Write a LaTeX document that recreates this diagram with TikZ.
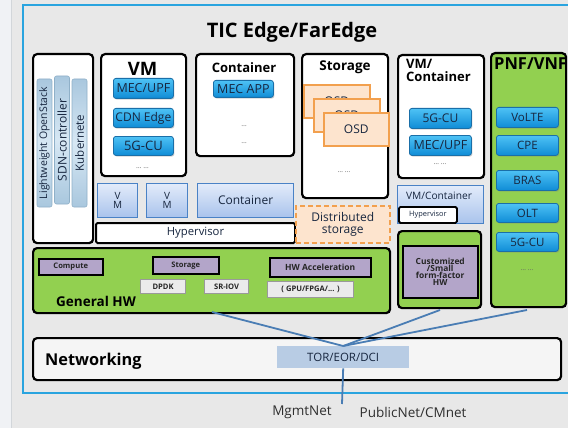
\documentclass[tikz,border=0pt]{standalone}
\usepackage{fontspec}
\setmainfont{Open Sans}
\usetikzlibrary{shadows}

\definecolor{bgcol}{HTML}{E8E8E8}
\definecolor{stripcol}{HTML}{F0F2F5}
\definecolor{stripline}{HTML}{D2D6DA}
\definecolor{frameblue}{HTML}{2AA4DF}
\definecolor{btntop}{HTML}{4EC2F5}
\definecolor{btnbot}{HTML}{0F8CD6}
\definecolor{btnedge}{HTML}{1A6FA8}
\definecolor{navy}{HTML}{17263F}
\definecolor{barside}{HTML}{A9C7DE}
\definecolor{barmid}{HTML}{D7E8F4}
\definecolor{baredge}{HTML}{8FB0C8}
\definecolor{vmtop}{HTML}{E2EBFA}
\definecolor{vmbot}{HTML}{A9C3EC}
\definecolor{vmedge}{HTML}{4A82C6}
\definecolor{osdfill}{HTML}{FDE4CE}
\definecolor{osdedge}{HTML}{F2A04E}
\definecolor{hwgreen}{HTML}{92D050}
\definecolor{hwpurple}{HTML}{B3A5C9}
\definecolor{drvfill}{HTML}{EBEBEB}
\definecolor{drvedge}{HTML}{9A9A9A}
\definecolor{torfill}{HTML}{B8CCE4}
\definecolor{linkblue}{HTML}{4A7DB4}
\definecolor{labelgray}{HTML}{2E2E2E}

\newcommand\fs[1]{\fontsize{#1}{1.2\dimexpr#1pt\relax}\selectfont}

\begin{document}
\begin{tikzpicture}[x=1pt,y=-1pt,
  panel/.style={draw=black, line width=2.2pt, rounded corners=4pt, fill=white,
    anchor=north west, inner sep=0pt},
  greenpanel/.style={panel, fill=hwgreen},
  title/.style={font=\bfseries\fs{#1}, text=black, inner sep=0pt},
  btn/.style={draw=btnedge, line width=0.8pt, rounded corners=2.5pt,
    top color=btntop, bottom color=btnbot, anchor=north west, inner sep=0pt,
    text=navy, font=\fs{12.5},
    drop shadow={opacity=0.35, shadow xshift=1pt, shadow yshift=-1.2pt}},
  bar/.style={draw=baredge, line width=0.6pt, rounded corners=2pt, rotate=90,
    top color=barside, bottom color=barside, middle color=barmid,
    minimum width=128, minimum height=15, inner sep=0pt, text=navy},
  vmbox/.style={draw=vmedge, line width=1.2pt, top color=vmtop, bottom color=vmbot,
    anchor=north west, inner sep=0pt, text=navy, align=center},
  hyper/.style={draw=black, line width=2pt, rounded corners=1.5pt, fill=white,
    anchor=north west, inner sep=0pt, text=navy},
  osd/.style={draw=osdedge, line width=1.6pt, fill=osdfill, anchor=north west,
    inner sep=0pt, minimum width=66, minimum height=33, font=\fs{12}, text=navy},
  hwbox/.style={draw=black, line width=1.5pt, fill=hwpurple, anchor=north west,
    inner sep=0pt, font=\bfseries\fs{7.6}, text=black!85},
  drv/.style={draw=drvedge, line width=1.2pt, fill=drvfill, anchor=north west,
    inner sep=0pt, font=\bfseries\fs{7.6}, text=black!85},
  dots/.style={font=\fs{7}, text=black!60, inner sep=0pt},
  link/.style={draw=linkblue, line width=1.8pt},
  netlabel/.style={font=\fs{13.5}, text=labelgray, inner sep=0pt}]

\clip (0,0) rectangle (568,428);

% page background and side strip
\fill[bgcol] (0,0) rectangle (568,428);
\fill[stripcol] (0,0) rectangle (11,428);
\draw[stripline, line width=0.8pt] (11.5,0) -- (11.5,428);

% outer frame
\draw[draw=frameblue, line width=2.5pt] (23,5) rectangle (578,393);
\node[title=20] (ttl) at (292,32) {TIC Edge/FarEdge};

% controllers column
\node[panel, minimum width=60, minimum height=189] (ctl) at (32,53) {};
\node[bar, font=\fs{10.5}] (ostack) at (44.5,143) {Lightweight OpenStack};
\node[bar, font=\fs{12}] (sdn) at (62,140) {SDN-controller};
\node[bar, font=\fs{11.5}] (kube) at (79.5,143) {Kubernete};

% VM panel
\node[panel, minimum width=85, minimum height=122] (vmp) at (100,53) {};
\node[title=18.5] (vmt) at (142.5,69) {VM};
\node[btn, minimum width=60, minimum height=20] (vmb1) at (113,78) {MEC/UPF};
\node[btn, minimum width=60, minimum height=19, font=\fs{12}] (vmb2) at (113,108) {CDN Edge};
\node[btn, minimum width=60, minimum height=19, font=\fs{13}] (vmb3) at (113,136) {5G-CU};
\node[dots] (vmd) at (142.5,168) {\ldots\ \ldots};

% container panel
\node[panel, minimum width=98, minimum height=102] (ctp) at (195,53) {};
\node[title=13] (ctt) at (244,68) {Container};
\node[btn, minimum width=60, minimum height=17] (ctb1) at (213,80) {MEC APP};
\node[dots] (ctd1) at (244,126) {\ldots};
\node[dots] (ctd2) at (244,143) {\ldots};

% storage panel with stacked OSDs
\node[panel, minimum width=86, minimum height=144] (stp) at (301,53) {};
\node[title=13.5] (stt) at (345,67) {Storage};
\node[osd] (osd1) at (303,84) {OSD};
\node[osd] (osd2) at (313,98) {OSD};
\node[osd, minimum width=65] (osd3) at (323,112) {OSD};
\node[dots] (std) at (344,172) {\ldots\ \ldots};

% VM/Container panel
\node[panel, minimum width=86, minimum height=123] (vcp) at (397,54) {};
\node[title=13, anchor=north west, align=left] (vct) at (406,59) {VM/\\[-3pt]Container};
\node[btn, minimum width=62, minimum height=20, font=\fs{12}] (vcb1) at (409,108) {5G-CU};
\node[btn, minimum width=62, minimum height=20, font=\fs{12.5}] (vcb2) at (409,135) {MEC/UPF};
\node[dots] (vcd) at (440,164) {\ldots\ \ldots};

% PNF/VNF column
\node[greenpanel, minimum width=75, minimum height=254] (pnf) at (490,52) {};
\node[title=16.5, anchor=west] (pnft) at (494,64) {PNF/VNF};
\node[btn, minimum width=62, minimum height=20, font=\fs{11.5}] (pb1) at (496,107) {VoLTE};
\node[btn, minimum width=62, minimum height=20, font=\fs{11.5}] (pb2) at (496,135) {CPE};
\node[btn, minimum width=62, minimum height=20, font=\fs{11.5}] (pb3) at (496,170) {BRAS};
\node[btn, minimum width=62, minimum height=19, font=\fs{11.5}] (pb4) at (496,203) {OLT};
\node[btn, minimum width=62, minimum height=19, font=\fs{11.5}] (pb5) at (496,232) {5G-CU};
\node[dots] (pnd) at (527,270) {\ldots\ \ldots};

% virtualisation layer
\node[vmbox, minimum width=40, minimum height=34, font=\fs{10}] (vm1) at (97,183) {V\\[-3pt]M};
\node[vmbox, minimum width=41, minimum height=34, font=\fs{10}] (vm2) at (146,183) {V\\[-3pt]M};
\node[vmbox, minimum width=96, minimum height=34, font=\fs{12}] (ctn) at (197,183) {Container};
\node[hyper, minimum width=199, minimum height=20, font=\fs{11.3}] (hyp) at (95,222) {Hypervisor};

\node[draw=osdedge, line width=1.6pt, dash pattern=on 5pt off 3pt, fill=osdfill,
  anchor=north west, inner sep=0pt, minimum width=94, minimum height=37,
  align=center, font=\fs{12}, text=navy] (dst) at (295,205) {Distributed\\[-3pt]storage};

\node[vmbox, minimum width=86, minimum height=38] (vcs) at (397,185) {};
\node[font=\fs{10.2}, text=navy, inner sep=0pt] (vcst) at (439,196) {VM/Container};
\node[hyper, line width=1.8pt, minimum width=58, minimum height=16, font=\fs{7.4}] (hyp2) at (398,206) {Hypervisor};

% customised hardware
\node[greenpanel, minimum width=83, minimum height=77] (cust) at (397,230) {};
\node[hwbox, minimum width=75, minimum height=52, align=center,
  font=\bfseries\fs{8.4}] (custin) at (402,245) {Customized\\[-3pt]/Small\\[-3pt]form-factor\\[-3pt]HW};

% general hardware
\node[greenpanel, minimum width=357, minimum height=65] (ghw) at (32,247) {};
\node[hwbox, minimum width=64, minimum height=16] (cmp) at (38,258) {Compute};
\node[hwbox, minimum width=66, minimum height=17] (sto) at (152,256) {Storage};
\node[hwbox, minimum width=101, minimum height=19, font=\bfseries\fs{8.5}] (acc) at (269,257) {HW Acceleration};
\node[drv, minimum width=45, minimum height=14] (dpdk) at (140,279) {DPDK};
\node[drv, minimum width=44, minimum height=14] (sriov) at (204,279) {SR-IOV};
\node[drv, minimum width=86, minimum height=16] (gpu) at (267,281) {( GPU/FPGA/... )};
\node[title=13.5, anchor=west] (ghwt) at (56,301) {General HW};

% networking
\node[panel, fill=white, fill opacity=0.6, text opacity=1, minimum width=528,
  minimum height=42] (net) at (32,337) {};
\node[title=16.3, anchor=west] (nett) at (45,361) {Networking};
\node[fill=torfill, anchor=north west, inner sep=0pt, minimum width=132,
  minimum height=22, font=\fs{11.5}, text=navy] (tor) at (277,346) {TOR/EOR/DCI};

% uplinks from the switch layer
\coordinate (ghwtap) at (212,312);
\coordinate (custtap) at (440,310);
\coordinate (pnftap) at (527,310);
\coordinate (extnet) at (342,404);
\draw[link] (tor.north) -- (ghwtap);
\draw[link] (tor.north) -- (custtap);
\draw[link] (tor.north) -- (pnftap);
\draw[link] (tor.south) -- (extnet);

\node[netlabel] (mgmt) at (302,412) {MgmtNet};
\node[netlabel] (pub) at (413,412) {PublicNet/CMnet};
\end{tikzpicture}
\end{document}
